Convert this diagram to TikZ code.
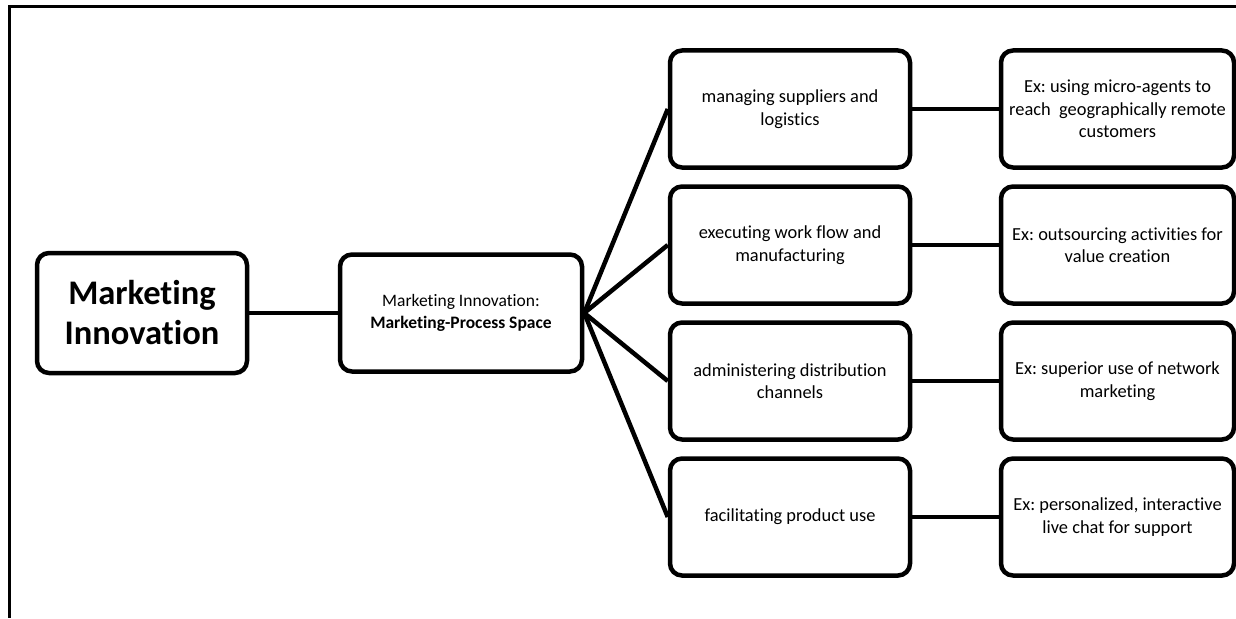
\documentclass[tikz,border=0pt]{standalone}
\usepackage{fontspec}
\setmainfont{Carlito}[Ligatures=NoCommon]
\frenchspacing
\begin{document}
\begin{tikzpicture}[x=1pt, y=-1pt, line width=4.5pt,
	box/.style={draw, rounded corners=12pt, align=center, inner sep=0pt,
		font=\fontsize{18.4}{22.5}\selectfont},
	midbox/.style={box, minimum width=240pt, minimum height=117pt},
	exbox/.style={box, minimum width=233pt, minimum height=117pt}]
	\useasboundingbox (0,0) rectangle (1236,618);
	% frame
	\draw[line width=3pt] (1236,7) -- (9,7) -- (9,618);
	% left part
	\node[box, minimum width=210pt, minimum height=120pt,
		font=\fontsize{34.5}{40}\selectfont\bfseries] (mi)  at (142,313)   {Marketing\\Innovation};
	\node[box, minimum width=242pt, minimum height=117pt,
		font=\fontsize{17.5}{21.5}\selectfont] (mps) at (461,313) {Marketing Innovation:\\\textbf{Marketing-Process Space}};
	% activities
	\node[midbox] (sup) at (790,109) {managing suppliers and\\logistics};
	\node[midbox] (wrk) at (790,245) {executing work flow and\\manufacturing};
	\node[midbox] (dis) at (790,381) {administering distribution\\channels};
	\node[midbox] (use) at (790,517) {facilitating product use};
	% examples
	\node[exbox] (exsup) at (1117.5,109) {Ex: using micro-agents to\\reach\ \ geographically remote\\customers};
	\node[exbox] (exwrk) at (1117.5,245) {Ex: outsourcing activities for\\value creation};
	\node[exbox] (exdis) at (1117.5,381) {Ex: superior use of network\\marketing};
	\node[exbox] (exuse) at (1117.5,517) {Ex: personalized, interactive\\live chat for support};
	% connectors
	\draw (mi) -- (mps);
	\foreach \n in {sup,wrk,dis,use}{
		\draw (mps.east) -- (\n.west);
		\draw (\n) -- (ex\n);
	}
\end{tikzpicture}
\end{document}
